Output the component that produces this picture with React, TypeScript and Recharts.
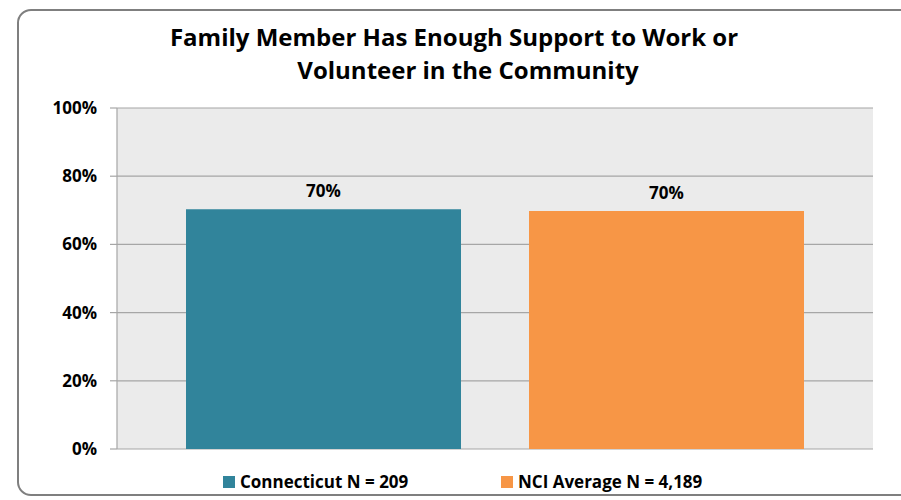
import React from "react";
import { BarChart, Bar, XAxis, YAxis, CartesianGrid, LabelList } from "recharts";

const titleLines = ["Family Member Has Enough Support to Work or", "Volunteer in the Community"];
const categories = ["Enough Support to Work or Volunteer"];
const connecticutValues = [70.3];
const nciValues = [69.8];
const seriesNames = ["Connecticut N = 209", "NCI Average N = 4,189"];
const seriesColors = ["#31849B", "#F79646"];
const yTicks = [0, 20, 40, 60, 80, 100];

const data = categories.map((c, i) => ({
  category: c,
  ct: connecticutValues[i],
  nci: nciValues[i],
}));

const FONT = "'Open Sans', 'Liberation Sans', sans-serif";

const pct = (v: any) => `${Math.round(Number(v))}%`;

export default function App() {
  return (
    <div
      style={{
        position: "absolute",
        left: 0,
        top: 0,
        width: 901,
        height: 500,
        overflow: "hidden",
        background: "#FFFFFF",
        fontFamily: FONT,
      }}
    >
      <div
        style={{
          position: "absolute",
          left: 17,
          top: 9,
          width: 920,
          height: 487,
          border: "2px solid #7F7F7F",
          borderRadius: 14,
          boxSizing: "border-box",
        }}
      />
      <svg style={{ position: "absolute", left: 0, top: 0 }} width={901} height={100}>
        <text x={454} y={46} textAnchor="middle" fontFamily={FONT} fontWeight={700} fontSize={24} fill="#000">
          {titleLines[0]}
        </text>
        <text x={468} y={79} textAnchor="middle" fontFamily={FONT} fontWeight={700} fontSize={24} fill="#000">
          {titleLines[1]}
        </text>
      </svg>
      <div style={{ position: "absolute", left: 0, top: 0 }}>
        <BarChart
          width={901}
          height={500}
          data={data}
          margin={{ top: 108, right: 28, bottom: 51, left: 0 }}
          barCategoryGap={69}
          barGap={68}
        >
          <CartesianGrid vertical={false} stroke="#A6A6A6" strokeWidth={1.2} fill="#EBEBEB" />
          <XAxis dataKey="category" hide />
          <YAxis
            width={117}
            domain={[0, 100]}
            ticks={yTicks}
            tickFormatter={(v: number) => `${v}%`}
            axisLine={{ stroke: "#A6A6A6", strokeWidth: 1.2 }}
            tickLine={{ stroke: "#A6A6A6", strokeWidth: 1.2 }}
            tickSize={7}
            tickMargin={13}
            tick={{ fill: "#000", fontFamily: FONT, fontWeight: 700, fontSize: 17 }}
            interval={0}
          />
          <Bar dataKey="ct" name={seriesNames[0]} fill={seriesColors[0]} isAnimationActive={false}>
            <LabelList
              dataKey="ct"
              position="top"
              offset={12}
              formatter={pct}
              style={{ fill: "#000", fontFamily: FONT, fontWeight: 700, fontSize: 17 }}
            />
          </Bar>
          <Bar dataKey="nci" name={seriesNames[1]} fill={seriesColors[1]} isAnimationActive={false}>
            <LabelList
              dataKey="nci"
              position="top"
              offset={12}
              formatter={pct}
              style={{ fill: "#000", fontFamily: FONT, fontWeight: 700, fontSize: 17 }}
            />
          </Bar>
        </BarChart>
      </div>
      {seriesNames.map((name, i) => (
        <div
          key={name}
          style={{
            position: "absolute",
            left: i === 0 ? 223 : 501,
            top: 470,
            height: 23,
            lineHeight: "23px",
            display: "flex",
            alignItems: "center",
            fontFamily: FONT,
            fontWeight: 700,
            fontSize: 17,
            color: "#000",
            whiteSpace: "nowrap",
          }}
        >
          <span
            style={{
              display: "inline-block",
              width: 12,
              height: 12,
              background: seriesColors[i],
              marginRight: 5,
            }}
          />
          <span>{name}</span>
        </div>
      ))}
    </div>
  );
}
